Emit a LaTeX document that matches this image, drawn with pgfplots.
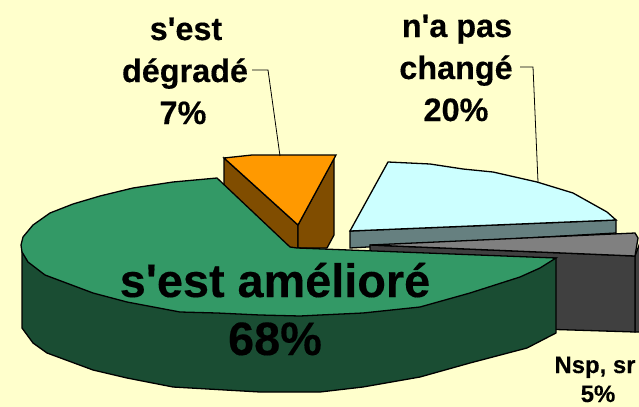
\documentclass[border=0pt]{standalone}
\usepackage{pgfplots}
\pgfplotsset{compat=1.18}
\usepackage{fontspec}
\setmainfont[BoldFeatures={FakeBold=0.3}]{Liberation Sans}
\definecolor{bg}{HTML}{FFFFCC}
\definecolor{gtop}{HTML}{339966}
\definecolor{gside}{HTML}{1A4D33}
\definecolor{otop}{HTML}{FF9900}
\definecolor{oside}{HTML}{804D00}
\definecolor{ctop}{HTML}{CCFFFF}
\definecolor{cside}{HTML}{668080}
\definecolor{ktop}{HTML}{808080}
\definecolor{kside}{HTML}{404040}
\newcommand{\lab}[4]{\node[anchor=base,inner sep=0pt,font=\fontsize{#1}{#1}\selectfont\bfseries] at (axis cs:#2,#3) {#4};}
\begin{document}
\begin{tikzpicture}
\useasboundingbox (0,0) rectangle (639bp,407bp);
\clip (0,0) rectangle (639bp,407bp);
\begin{axis}[scale only axis,width=639bp,height=407bp,xmin=0,xmax=639,ymin=0,ymax=407,y dir=reverse,hide axis,clip=false]
\addplot[fill=bg,draw=none] coordinates {(0,0)(639,0)(639,407)(0,407)} --cycle;
% light blue slice
\addplot[fill=cside,draw=black,line width=1.3pt] coordinates {(350,231)(616,220)(616,233)(350,248)} --cycle;
\addplot[fill=ctop,draw=black,line width=1.3pt] coordinates {(388,162)(430,164)(463,169)(493,172)(537,182)(573,193)(607,212)(616,220)(350,231)} --cycle;
% grey slice
\addplot[fill=kside,draw=black,line width=1.3pt] coordinates {(635,256)(641,240)(641,332)(635,332)} --cycle;
\addplot[fill=kside,draw=black,line width=1.3pt] coordinates {(370,245)(635,256)(635,332)(540,329)(370,320)} --cycle;
\addplot[fill=ktop,draw=black,line width=1.3pt] coordinates {(370,245)(635,233)(638,238)(635,256)} --cycle;
% orange slice
\addplot[fill=oside,draw=black,line width=1.3pt] coordinates {(224,158)(298,225)(298,250)(224,250)} --cycle;
\addplot[fill=oside,draw=black,line width=1.3pt] coordinates {(298,225)(334,158)(334,235)(327,248)(298,248)} --cycle;
\addplot[fill=otop,draw=black,line width=1.3pt] coordinates {(224,158)(252,155)(336,155)(298,225)} --cycle;
% green slice
\addplot[fill=gside,draw=black,line width=1.3pt] coordinates {(22,252)(22,328)(33,343)(47,353)(93,370)(127,378)(173,387)(260,392)(320,392)(363,387)(420,377)(470,363)(527,348)(556,333)(556,258)} --cycle;
\addplot[fill=gtop,draw=black,line width=1.3pt] coordinates {(217,178)(173,182)(133,188)(100,196)(73,204)(50,213)(33,225)(23,237)(21,245)(22,252)(28,262)(45,275)(93,293)(127,302)(180,312)(217,313)(260,315)(300,316)(320,315)(363,313)(420,307)(470,293)(520,277)(540,268)(556,258)(297,248)(290,247)} --cycle;
% leaders
\addplot[draw=black,line width=0.8pt] coordinates {(252,70)(268,70)(280,156)};
\addplot[draw=black,line width=0.8pt] coordinates {(520,67)(533,67)(538,182)};
% labels
\lab{32.5}{186}{40}{s\textquotesingle est}
\lab{32.5}{185}{82}{dégradé}
\lab{32.5}{183}{124}{7\%}
\lab{32.5}{457}{37}{n\textquotesingle a pas}
\lab{32.5}{456}{79}{changé}
\lab{32.5}{456}{121}{20\%}
\lab{47}{275}{297}{s\textquotesingle est amélioré}
\lab{47}{275}{355}{68\%}
\lab{24}{595}{373}{Nsp, sr}
\lab{24}{598}{402}{5\%}
\end{axis}
\end{tikzpicture}
\end{document}
